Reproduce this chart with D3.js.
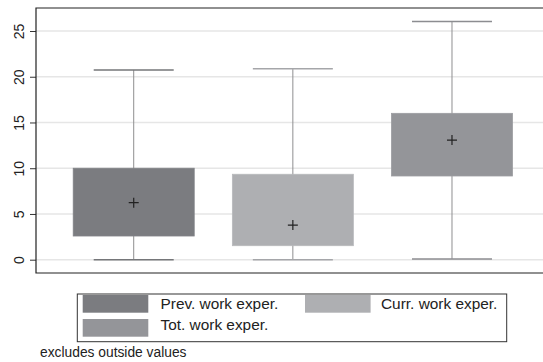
<!DOCTYPE html>
<html><head><meta charset="utf-8">
<script src="https://cdn.jsdelivr.net/npm/d3@7"></script>
<style>body{margin:0;background:#fff}svg{display:block}text{font-family:"Liberation Sans",Arial,Helvetica,sans-serif}</style>
</head><body><svg id="c" width="543" height="362"></svg>
<script>
const categories = ["Prev. work exper.", "Curr. work exper.", "Tot. work exper."];
const lowerWhisker = [0, 0, 0.08];
const q1 = [2.59, 1.53, 9.15];
const q3 = [10.0, 9.34, 16.0];
const upperWhisker = [20.74, 20.88, 26.04];
const medianMarker = [6.23, 3.79, 13.08];
const yTicks = [0, 5, 10, 15, 20, 25];
const colors = ["#7b7c80", "#aeafb2", "#949599"];
const footnote = "excludes outside values";

const svg = d3.select("#c");
const pLeft = 36, pTop = 8, pBottom = 273, pRight = 560;
const y = d3.scaleLinear().domain([0, 25]).range([259.7, 31]);
const x = d3.scalePoint().domain(categories).range([pLeft, 549.7]).padding(0.614);
const boxW = 121, capW = 80;

// gridlines
svg.append("g").selectAll("line").data(yTicks).join("line")
  .attr("x1", pLeft).attr("x2", pRight)
  .attr("y1", d => y(d)).attr("y2", d => y(d))
  .attr("stroke", "#e6e6e6").attr("stroke-width", 1.4);

// y axis
const ax = svg.append("g").attr("transform", `translate(${pLeft},0)`)
  .call(d3.axisLeft(y).tickValues(yTicks).tickSize(6).tickPadding(0));
ax.select(".domain").remove();
ax.selectAll(".tick line").attr("stroke", "#333");
ax.selectAll(".tick text").remove();
ax.selectAll(".tick").append("text")
  .attr("transform", "translate(-17,0) rotate(-90)")
  .attr("text-anchor", "middle").attr("dy", "0.35em")
  .attr("fill", "#222").style("font-size", "14px")
  .text(d => d);

const idx = categories.map((c, i) => i);
const g = svg.append("g");
// whiskers
g.selectAll("line.w").data(idx).join("line").attr("class", "w")
  .attr("x1", i => x(categories[i])).attr("x2", i => x(categories[i]))
  .attr("y1", i => y(lowerWhisker[i])).attr("y2", i => y(upperWhisker[i]))
  .attr("stroke", "#8e8e90").attr("stroke-width", 1);
// caps
[lowerWhisker, upperWhisker].forEach(arr => {
  g.append("g").selectAll("line").data(idx).join("line")
    .attr("x1", i => x(categories[i]) - capW / 2).attr("x2", i => x(categories[i]) + capW / 2)
    .attr("y1", i => y(arr[i])).attr("y2", i => y(arr[i]))
    .attr("stroke", i => d3.color(colors[i]).darker(0.15)).attr("stroke-width", 1.6);
});
// boxes
g.selectAll("rect.b").data(idx).join("rect").attr("class", "b")
  .attr("x", i => x(categories[i]) - boxW / 2).attr("width", boxW)
  .attr("y", i => y(q3[i])).attr("height", i => y(q1[i]) - y(q3[i]))
  .attr("fill", i => colors[i]).attr("stroke", i => d3.color(colors[i]).brighter(0.15)).attr("stroke-width", 0.8);
// plus markers
g.selectAll("path.p").data(idx).join("path").attr("class", "p")
  .attr("d", i => { const cx = x(categories[i]), cy = y(medianMarker[i]); return `M${cx-5},${cy}H${cx+5}M${cx},${cy-5}V${cy+5}`; })
  .attr("stroke", "#222").attr("stroke-width", 1.2).attr("fill", "none");

// frame
svg.append("path").attr("d", `M${pRight},${pTop}H${pLeft}V${pBottom}H${pRight}`)
  .attr("fill", "none").attr("stroke", "#222").attr("stroke-width", 1.2);

// legend
const lg = svg.append("g");
lg.append("rect").attr("x", 77.3).attr("y", 294).attr("width", 429.4).attr("height", 47.7)
  .attr("fill", "#fff").attr("stroke", "#333").attr("stroke-width", 1);
const legPos = [[82.7, 295, 160.5, 309], [305, 295, 381, 309], [82.7, 319, 160.5, 329.5]];
categories.forEach((c, i) => {
  const p = legPos[i];
  lg.append("rect").attr("x", p[0]).attr("y", p[1]).attr("width", 65.6).attr("height", 17.7).attr("fill", colors[i]);
  lg.append("text").attr("x", p[2]).attr("y", p[3]).attr("fill", "#222").style("font-size", "15.4px").text(c);
});
svg.append("text").attr("x", 40).attr("y", 356.7).attr("fill", "#222").style("font-size", "13.8px").text(footnote);
</script></body></html>
